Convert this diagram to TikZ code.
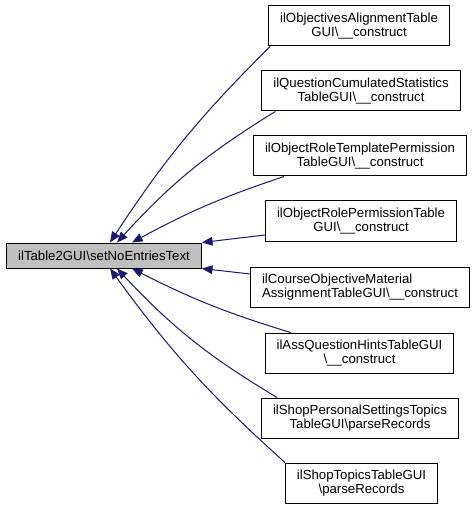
\documentclass[tikz,border=0pt]{standalone}
\usepackage{fontspec}
\setmainfont{Liberation Sans}
\usetikzlibrary{arrows.meta, calc}

\definecolor{edgeblue}{RGB}{25,25,112}
\newcommand{\bs}{\textbackslash}

\begin{document}
\begin{tikzpicture}[x=0.75pt, y=-0.75pt,
    func/.style={rectangle,draw=black,line width=0.75pt,inner xsep=8.6pt,inner ysep=2pt,
        minimum height=30pt,align=center,font=\fontsize{9.9}{10.4}\selectfont},
    current/.style={func,fill=black!25,minimum height=18.75pt},
    edge/.style={draw=edgeblue,line width=0.75pt,-{Triangle[length=8pt,width=6.5pt]}}]

    \useasboundingbox (0,0) rectangle (475,509);

    \node[current] (main) at (104,255.5) {ilTable2GUI\bs setNoEntriesText};

    % callers
    \node[func] (n1) at (359,26)    {ilObjectivesAlignmentTable\\GUI\bs\_\_construct};
    \node[func] (n2) at (361,91)    {ilQuestionCumulatedStatistics\\TableGUI\bs\_\_construct};
    \node[func] (n3) at (360,156)   {ilObjectRoleTemplatePermission\\TableGUI\bs\_\_construct};
    \node[func] (n4) at (361,221)   {ilObjectRolePermissionTable\\GUI\bs\_\_construct};
    \node[func,align=left] (n5) at (360,287.5) {ilCourseObjectiveMaterial\\AssignmentTableGUI\bs\_\_construct};
    \node[func] (n6) at (359.5,353) {ilAssQuestionHintsTableGUI\\\bs\_\_construct};
    \node[func] (n7) at (360,418)   {ilShopPersonalSettingsTopics\\TableGUI\bs parseRecords};
    \node[func] (n8) at (361.5,483) {ilShopTopicsTableGUI\\\bs parseRecords};

    \draw[edge] ($(n1.south west)+(2,0)$)  to[bend right=6] ($(main.north)+(6,0)$);
    \draw[edge] ($(n2.south west)+(14,0)$) to[bend right=8] ($(main.north)+(13,0)$);
    \draw[edge] ($(n3.south west)+(31,0)$) to[bend right=5] ($(main.north)+(28,0)$);
    \draw[edge] ($(n4.west)+(0,14)$) -- (main.north east);
    \draw[edge] ($(n5.north west)+(0,7)$) -- (main.south east);
    \draw[edge] ($(n6.north west)+(26,0)$) to[bend left=5] ($(main.south)+(28,0)$);
    \draw[edge] ($(n7.north west)+(16,0)$) to[bend left=8] ($(main.south)+(13,0)$);
    \draw[edge] (n8.north west) to[bend left=6] ($(main.south)+(6,0)$);
\end{tikzpicture}
\end{document}
